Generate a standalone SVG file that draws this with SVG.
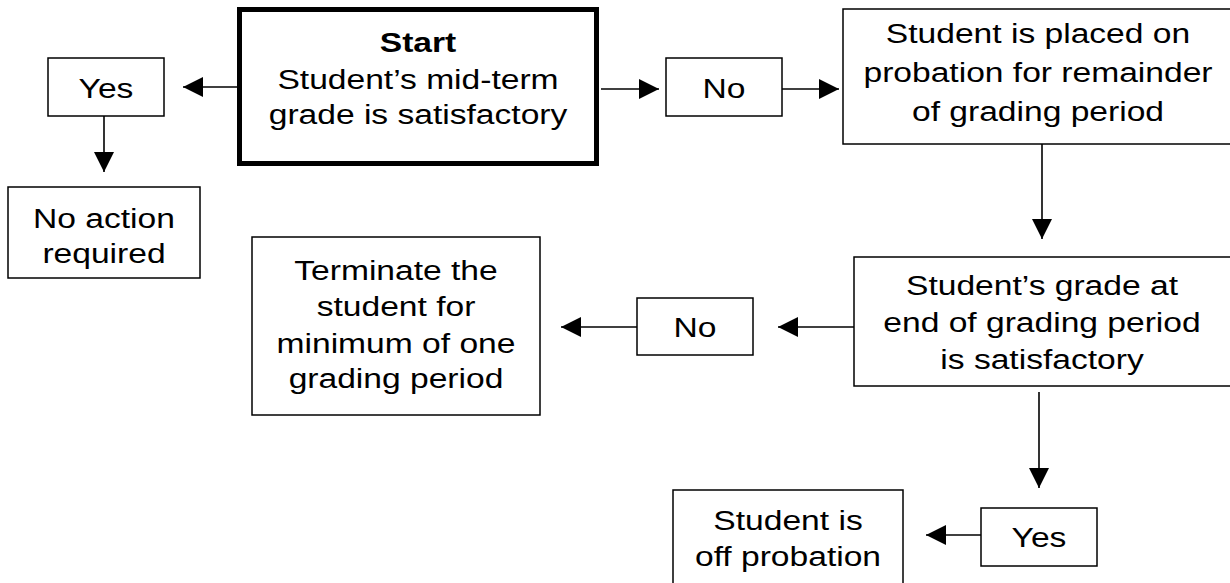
<svg xmlns="http://www.w3.org/2000/svg" width="1230" height="583" viewBox="0 0 1230 583">
<defs>
<style>
.box{fill:#fff;stroke:#000;stroke-width:1.5}
.start{fill:#fff;stroke:#000;stroke-width:5}
.t{font-family:"Liberation Sans",Arial,sans-serif;font-size:28px;fill:#000;text-anchor:middle}
.b{font-weight:bold}
.c{stroke:#000;stroke-width:1.6;fill:none;marker-end:url(#ah)}
</style>
<marker id="ah" viewBox="0 0 20 20" refX="20" refY="10" markerWidth="20" markerHeight="20" markerUnits="userSpaceOnUse" orient="auto">
<path d="M0,0 L20,10 L0,20 Z" fill="#000"/>
</marker>
</defs>
<rect width="1230" height="583" fill="#fff"/>
<g id="connectors">
<line class="c" x1="237" y1="87" x2="183" y2="87"/>
<line class="c" x1="104" y1="116" x2="104" y2="172"/>
<line class="c" x1="601" y1="89" x2="659" y2="89"/>
<line class="c" x1="782" y1="89" x2="839" y2="89"/>
<line class="c" x1="1042" y1="144" x2="1042" y2="239"/>
<line class="c" x1="854" y1="327" x2="778" y2="327"/>
<line class="c" x1="637" y1="327" x2="561" y2="327"/>
<line class="c" x1="1039" y1="392" x2="1039" y2="488"/>
<line class="c" x1="981" y1="535" x2="926" y2="535"/>
</g>
<g id="start">
<rect class="start" x="239.5" y="9.5" width="357" height="154"/>
<text class="t" transform="translate(418,0) scale(1.2,1)"><tspan class="b" x="0" y="52">Start</tspan><tspan x="0" y="89">Student’s mid-term</tspan><tspan x="0" y="124">grade is satisfactory</tspan></text>
</g>
<g id="yes1">
<rect class="box" x="48" y="58" width="116" height="58"/>
<text class="t" transform="translate(106,0) scale(1.2,1)"><tspan x="0" y="98">Yes</tspan></text>
</g>
<g id="noaction">
<rect class="box" x="8" y="187" width="192" height="91"/>
<text class="t" transform="translate(104,0) scale(1.2,1)"><tspan x="0" y="228">No action</tspan><tspan x="0" y="263">required</tspan></text>
</g>
<g id="no1">
<rect class="box" x="666" y="58" width="116" height="58"/>
<text class="t" transform="translate(724,0) scale(1.2,1)"><tspan x="0" y="98">No</tspan></text>
</g>
<g id="probation">
<rect class="box" x="843" y="9" width="400" height="135"/>
<text class="t" transform="translate(1038,0) scale(1.2,1)"><tspan x="0" y="43">Student is placed on</tspan><tspan x="0" y="82">probation for remainder</tspan><tspan x="0" y="121">of grading period</tspan></text>
</g>
<g id="grade">
<rect class="box" x="854" y="257" width="390" height="129"/>
<text class="t" transform="translate(1042,0) scale(1.2,1)"><tspan x="0" y="295">Student’s grade at</tspan><tspan x="0" y="332">end of grading period</tspan><tspan x="0" y="369">is satisfactory</tspan></text>
</g>
<g id="no2">
<rect class="box" x="637" y="298" width="116" height="57"/>
<text class="t" transform="translate(695,0) scale(1.2,1)"><tspan x="0" y="337">No</tspan></text>
</g>
<g id="terminate">
<rect class="box" x="252" y="237" width="288" height="178"/>
<text class="t" transform="translate(396,0) scale(1.2,1)"><tspan x="0" y="280">Terminate the</tspan><tspan x="0" y="316">student for</tspan><tspan x="0" y="353">minimum of one</tspan><tspan x="0" y="388">grading period</tspan></text>
</g>
<g id="yes2">
<rect class="box" x="981" y="508" width="116" height="58"/>
<text class="t" transform="translate(1039,0) scale(1.2,1)"><tspan x="0" y="547">Yes</tspan></text>
</g>
<g id="offprobation">
<rect class="box" x="673" y="490" width="230" height="110"/>
<text class="t" transform="translate(788,0) scale(1.2,1)"><tspan x="0" y="530">Student is</tspan><tspan x="0" y="566">off probation</tspan></text>
</g>
</svg>
